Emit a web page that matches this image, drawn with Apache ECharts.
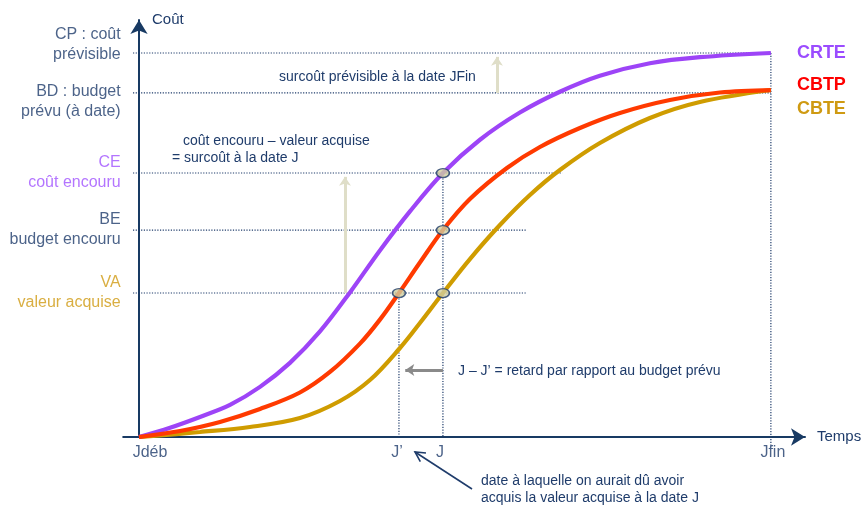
<!DOCTYPE html>
<html><head><meta charset="utf-8">
<script src="https://cdn.jsdelivr.net/npm/echarts@6/dist/echarts.min.js"></script>
<style>html,body{margin:0;padding:0;background:#fff}#c{width:866px;height:505px}</style>
</head><body><div id="c"></div>
<script>
// ---- data ----
const levelNames = ['CP : coût\nprévisible', 'BD : budget\nprévu (à date)', 'CE\ncoût encouru', 'BE\nbudget encouru', 'VA\nvaleur acquise'];
const levelValues = [100, 89.6, 68.75, 53.9, 37.5];
const levelLineEnds = [100, 100, 67, 61.4, 61.4];
const dateLabels = ['Jdéb', 'J’', 'J', 'Jfin'];
const dateValues = [0, 41.14, 48.1, 100];
const seriesNames = ['CRTE', 'CBTP', 'CBTE'];
const crteX = [0, 4.91, 9.65, 14.40, 19.15, 23.89, 28.64, 33.39, 38.13, 42.88, 48.10, 53.96, 60.28, 66.61, 72.94, 80.85, 88.77, 100];
const crteY = [0, 2.42, 5.23, 8.36, 13.05, 19.3, 27.5, 37.66, 48.59, 58.75, 68.75, 77.42, 84.51, 89.92, 94.09, 97.34, 98.91, 100];
const cbtpX = [0, 6.49, 12.82, 19.15, 25.47, 30.22, 34.97, 38.13, 41.14, 44.46, 48.10, 52.37, 58.23, 63.45, 69.78, 76.11, 84.02, 91.93, 100];
const cbtpY = [0, 1.56, 3.91, 7.29, 11.59, 16.93, 24.32, 30.57, 37.5, 45.44, 53.9, 61.98, 70.05, 75.52, 80.47, 84.38, 87.76, 89.71, 90.36];
const cbteX = [0, 9.65, 17.56, 25.47, 31.80, 36.55, 41.30, 44.46, 48.10, 52.37, 57.12, 61.87, 66.61, 72.94, 80.85, 88.77, 100];
const cbteY = [0, 1.30, 2.60, 4.95, 9.38, 14.84, 23.18, 29.69, 37.5, 46.35, 55.21, 63.02, 69.53, 76.56, 83.07, 87.24, 90.36];

// ---- styles ----
const NAVY = '#1f3c6b';
const AXIS = '#183a63';
const PURPLE = '#9d44f7', RED = '#ff3a00', GOLD = '#cf9c00';
const FONT = '"Liberation Sans", Arial, Helvetica, sans-serif';
const zip = (xs, ys) => xs.map((x, i) => [x, ys[i]]);
const [CP, BD, CE, BE, VA] = levelValues;
const [JD, JP, J, JF] = dateValues;

const dotStyle = { color: NAVY, width: 1.2, type: [1.2, 1.5] };
const seg = (pts) => ({
  type: 'line', data: pts, symbol: 'none', clip: false, silent: true,
  lineStyle: dotStyle, z: 1
});

const series = [];
levelValues.forEach((v, i) => series.push(seg([[-0.95, v], [levelLineEnds[i], v]])));
series.push(seg([[JF, CP], [JF, -2.6]]));
series.push(seg([[J, CE], [J, 0]]));
series.push(seg([[JP, VA], [JP, 0]]));

const curve = (name, xs, ys, color, labelColor, off) => ({
  type: 'line', name, data: zip(xs, ys), symbol: 'none', smooth: 0.35,
  lineStyle: { color, width: 4.2 }, z: 3,
  endLabel: { show: true, formatter: name, color: labelColor, fontSize: 18, fontWeight: 'bold',
    fontFamily: FONT, distance: 26, offset: [0, off] }
});
series.push(curve(seriesNames[2], cbteX, cbteY, GOLD, '#cf9a12', 19));
series.push(curve(seriesNames[0], crteX, crteY, PURPLE, '#9b4cff', 0));
series.push(curve(seriesNames[1], cbtpX, cbtpY, RED, '#ff0000', -5));

// intersection markers + arrows
series.push({
  type: 'scatter', data: [[J, CE], [J, BE], [J, VA], [JP, VA]],
  symbol: 'circle', symbolSize: [13, 9], z: 5, silent: true,
  itemStyle: { color: '#cfcd9f', borderColor: NAVY, borderWidth: 1.5 },
  markLine: {
    silent: true, symbol: ['none', 'arrow'], animation: false,
    label: { show: false },
    data: [
      [{ coord: [32.6, VA], lineStyle: { color: '#dfdec8', width: 3, type: 'solid' } }, { coord: [32.6, CE - 1] }],
      [{ coord: [56.65, BD], lineStyle: { color: '#dfdec8', width: 3, type: 'solid' } }, { coord: [56.65, CP - 1] }],
      [{ coord: [J, 17.45], lineStyle: { color: '#8a8a8a', width: 3, type: 'solid' } }, { coord: [JP + 1, 17.45] }]
    ],
    symbolSize: [9, 9]
  }
});

// date labels under the time axis
const dateOffsets = [[11, 0], [-2, 0], [-3, 0], [2, 0]];
series.push({
  type: 'scatter', symbolSize: 1, clip: false, silent: true, z: 6,
  itemStyle: { color: 'rgba(0,0,0,0)' },
  data: dateValues.map((v, i) => ({ value: [v, 0], label: { formatter: dateLabels[i], offset: dateOffsets[i] } })),
  label: { show: true, position: 'bottom', distance: 7, color: NAVY, fontSize: 16, fontFamily: FONT }
});

// level labels left of the cost axis
const levelColors = [NAVY, NAVY, '#a052ff', NAVY, '#cf9a12'];
const levelOffsets = [[0, -8], [0, 9], [0, 0], [0, 0], [0, 0]];
series.push({
  type: 'scatter', symbolSize: 1, clip: false, silent: true, z: 6,
  itemStyle: { color: 'rgba(0,0,0,0)' },
  data: levelValues.map((v, i) => ({ value: [-2.5, v], label: { formatter: levelNames[i], color: levelColors[i], offset: levelOffsets[i] } })),
  label: { show: true, position: 'left', distance: 2, fontSize: 16, lineHeight: 20, fontFamily: FONT, align: 'right' }
});

// annotation arrow (pointing to J')
const tip = [415, 452], tail = [472, 489];
const dx = tail[0] - tip[0], dy = tail[1] - tip[1], L = Math.hypot(dx, dy);
const ux = dx / L, uy = dy / L, a = 28 * Math.PI / 180, al = 11;
const arm = (s) => [tip[0] + al * (ux * Math.cos(s * a) - uy * Math.sin(s * a)), tip[1] + al * (ux * Math.sin(s * a) + uy * Math.cos(s * a))];

const txt = (x, y, text) => ({ type: 'text', x, y, silent: true,
  style: { text, fill: NAVY, font: '14px ' + FONT, verticalAlign: 'middle', align: 'left' } });

const option = {
  animation: false,
  textStyle: { fontFamily: FONT },
  grid: { left: 123.2, right: 61, top: 20, bottom: 68, containLabel: false, outerBoundsMode: 'none' },
  xAxis: {
    type: 'value', min: -2.5, max: 105.4,
    name: 'Temps', nameLocation: 'end', nameGap: 12,
    nameTextStyle: { color: NAVY, fontSize: 15, fontFamily: FONT, padding: [6, 0, 0, 0] },
    axisLine: { show: true, onZero: true, symbol: ['none', 'arrow'], symbolSize: [13, 14], lineStyle: { color: AXIS, width: 2 } },
    axisTick: { show: false }, axisLabel: { show: false }, splitLine: { show: false }
  },
  yAxis: {
    type: 'value', min: 0, max: 108.6,
    name: 'Coût', nameLocation: 'end', nameGap: 0,
    nameTextStyle: { color: NAVY, fontSize: 15, fontFamily: FONT, align: 'left', verticalAlign: 'middle', padding: [0, 0, 0, 13] },
    axisLine: { show: true, onZero: true, symbol: ['none', 'arrow'], symbolSize: [13, 14], lineStyle: { color: AXIS, width: 2 } },
    axisTick: { show: false }, axisLabel: { show: false }, splitLine: { show: false }
  },
  series,
  graphic: [
    txt(279, 77, 'surcoût prévisible à la date JFin'),
    txt(183, 141, 'coût encouru – valeur acquise'),
    txt(172, 158, '= surcoût à la date J'),
    txt(458, 371, 'J – J’ = retard par rapport au budget prévu'),
    txt(481, 481, 'date à laquelle on aurait dû avoir'),
    txt(481, 498, 'acquis la valeur acquise à la date J'),
    { type: 'line', silent: true, shape: { x1: tail[0], y1: tail[1], x2: tip[0], y2: tip[1] }, style: { stroke: NAVY, lineWidth: 1.6 } },
    { type: 'polyline', silent: true, shape: { points: [arm(1), tip, arm(-1)] }, style: { stroke: NAVY, lineWidth: 1.6, fill: null } }
  ]
};
const chart = echarts.init(document.getElementById('c'), null, { renderer: 'canvas' });
chart.setOption(option);
</script></body></html>
